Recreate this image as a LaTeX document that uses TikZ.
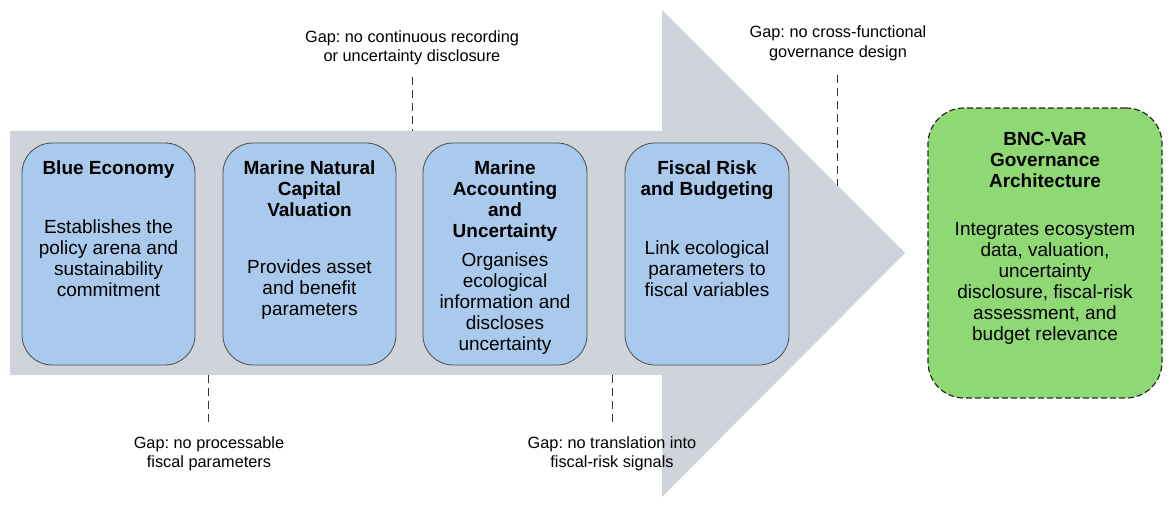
\documentclass[tikz,border=0pt]{standalone}
\usepackage{fontspec}
\setmainfont{Liberation Sans}
\frenchspacing
\usetikzlibrary{positioning}
\definecolor{arrowgray}{RGB}{207,212,218}
\definecolor{stageblue}{RGB}{169,202,236}
\definecolor{goalgreen}{RGB}{143,217,116}
\definecolor{edgegray}{RGB}{75,75,75}
\tikzset{
	stage/.style={draw=edgegray, line width=0.8pt, fill=stageblue, rounded corners=30pt, minimum width=#1, minimum height=222pt, inner sep=0pt},
	goal/.style={draw=black!85, line width=1.2pt, dash pattern=on 6pt off 3pt, fill=goalgreen, rounded corners=36pt, minimum width=234pt, minimum height=290pt, inner sep=0pt},
	stagetitle/.style={anchor=north, align=center, inner sep=0pt, font=\bfseries\fontsize{19pt}{21pt}\selectfont},
	stagebody/.style={anchor=north, align=center, inner sep=0pt, font=\fontsize{19pt}{21pt}\selectfont},
	gaptext/.style={align=center, inner sep=0pt, font=\fontsize{16.3pt}{19.5pt}\selectfont},
	gapline/.style={draw=black!80, line width=0.9pt, dash pattern=on 8pt off 5pt}
}
\begin{document}
\begin{tikzpicture}[x=1pt,y=-1pt,line join=round]
	\useasboundingbox (0,0) rectangle (1170,505);
	\coordinate (bodyTL) at (10,131);
	\coordinate (bodyBL) at (10,375);
	\coordinate (headT) at (662,10);
	\coordinate (tip) at (905,253);
	\coordinate (headB) at (662,497);
	\fill[arrowgray] (bodyTL) -- (bodyTL -| headT) -- (headT) -- (tip) -- (headB) -- (bodyBL -| headB) -- (bodyBL) -- cycle;
	% stages
	\node[stage=173pt] (econ) at (108.5,254) {};
	\node[stage=173pt] (capval) at (309.5,254) {};
	\node[stage=164pt] (acct) at (505,254) {};
	\node[stage=164pt] (fisc) at (707,254) {};
	\node[goal] (bnc) at (1045,253) {};
	\node[stagetitle, below=18pt of econ.north] (econ-t) {Blue Economy};
	\node[stagebody, below=77pt of econ.north] (econ-b) {Establishes the\\policy arena and\\sustainability\\commitment};
	\node[stagetitle, below=18pt of capval.north] (capval-t) {Marine Natural\\Capital\\Valuation};
	\node[stagebody, below=117pt of capval.north] (capval-b) {Provides asset\\and benefit\\parameters};
	\node[stagetitle, below=18pt of acct.north] (acct-t) {Marine\\Accounting\\and\\Uncertainty};
	\node[stagebody, below=110pt of acct.north] (acct-b) {Organises\\ecological\\information and\\discloses\\uncertainty};
	\node[stagetitle, below=18pt of fisc.north] (fisc-t) {Fiscal Risk\\and Budgeting};
	\node[stagebody, below=98pt of fisc.north] (fisc-b) {Link ecological\\parameters to\\fiscal variables};
	\node[stagetitle, below=25pt of bnc.north] (bnc-t) {BNC-VaR\\Governance\\Architecture};
	\node[stagebody, below=115pt of bnc.north] (bnc-b) {Integrates ecosystem\\data, valuation,\\uncertainty\\disclosure, fiscal-risk\\assessment, and\\budget relevance};
	% gaps
	\node[gaptext] (gapRecord) at (412,48) {Gap: no continuous recording\\or uncertainty disclosure};
	\node[gaptext] (gapCross) at (838,43.5) {Gap: no cross-functional\\governance design};
	\node[gaptext] (gapParam) at (209,454) {Gap: no processable\\fiscal parameters};
	\node[gaptext] (gapSignal) at (612,454) {Gap: no translation into\\fiscal-risk signals};
	\coordinate (crossEnd) at (837,186);
	\draw[gapline] ([yshift=-11.5pt]gapRecord.south) -- (gapRecord.south |- bodyTL);
	\draw[gapline] ([xshift=-1pt,yshift=-14pt]gapCross.south) -- (crossEnd);
	\draw[gapline] ([xshift=-1pt]gapParam.north |- bodyBL) -- ([xshift=-1pt,yshift=11pt]gapParam.north);
	\draw[gapline] (gapSignal.north |- bodyBL) -- ([yshift=11pt]gapSignal.north);
\end{tikzpicture}
\end{document}
